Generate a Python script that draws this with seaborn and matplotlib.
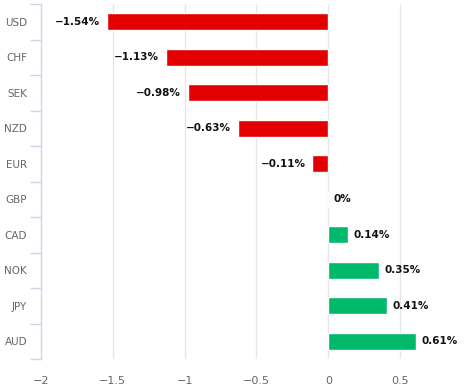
import matplotlib
matplotlib.use("Agg")
import matplotlib.pyplot as plt
import numpy as np
import pandas as pd
import seaborn as sns

currencies = ["USD", "CHF", "SEK", "NZD", "EUR", "GBP", "CAD", "NOK", "JPY", "AUD"]
changes = [-1.54, -1.13, -0.98, -0.63, -0.11, 0.0, 0.14, 0.35, 0.41, 0.61]
x_ticks = [-2, -1.5, -1, -0.5, 0, 0.5]

RED = "#e30000"
GREEN = "#00b96b"
AXIS = "#ccd6eb"
GRID = "#e6e6e6"

sns.set_theme(style="white")
plt.rcParams["font.family"] = ["DejaVu Sans"]

df = pd.DataFrame({"currency": currencies, "change": changes})
colors = [RED if v < 0 else GREEN for v in changes]

fig = plt.figure(figsize=(4.67, 3.92), dpi=100)
ax = fig.add_axes([41 / 467, 1 - 359 / 392, (459 - 41) / 467, 355 / 392])

sns.barplot(data=df, x="change", y="currency", hue="currency", palette=colors,
            legend=False, width=0.47, saturation=1, orient="h", ax=ax, zorder=3)

ax.set_xlim(-2, 0.91)
ax.set_ylim(len(currencies) - 0.5, -0.5)
ax.set_xticks(x_ticks)
ax.set_xticklabels([("−" if t < 0 else "") + f"{abs(t):g}" for t in x_ticks],
                   fontsize=8, color="#666666")
ax.tick_params(axis="x", length=0, pad=12)
ax.tick_params(axis="y", which="major", length=0, pad=10, labelsize=7.5, labelcolor="#666666")
ax.set_yticks(np.arange(-0.5, len(currencies), 1), minor=True)
ax.tick_params(axis="y", which="minor", length=8, width=1, color=AXIS, left=True)
ax.set_xlabel("")
ax.set_ylabel("")

for t in x_ticks[1:]:
    ax.axvline(t, color=GRID, lw=1, zorder=0)

for s in ["top", "right", "bottom"]:
    ax.spines[s].set_visible(False)
ax.spines["left"].set_color(AXIS)
ax.spines["left"].set_linewidth(1)

for i, v in enumerate(changes):
    txt = ("−" if v < 0 else "") + f"{abs(v):g}%"
    if v < 0:
        ax.annotate(txt, (v, i), xytext=(-5, 0), textcoords="offset points",
                    ha="right", va="center", fontsize=7.5, fontweight="bold", color="#111111")
    else:
        ax.annotate(txt, (v, i), xytext=(4, 0), textcoords="offset points",
                    ha="left", va="center", fontsize=7.5, fontweight="bold", color="#111111")

fig.savefig("out.png", dpi=100)
